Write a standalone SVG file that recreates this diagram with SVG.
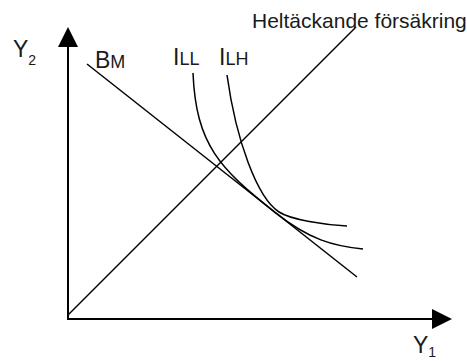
<svg xmlns="http://www.w3.org/2000/svg" width="467" height="361" viewBox="0 0 467 361">
  <style>
    .ax { stroke: #000; stroke-width: 2; fill: none; }
    .ln { stroke: #000; stroke-width: 1.5; fill: none; stroke-linecap: butt; }
    .head { fill: #000; stroke: none; }
    text { font-family: "Liberation Sans", Arial, Helvetica, sans-serif; fill: #1a1a1a; }
    .big { font-size: 23px; }
    .sub { font-size: 18px; }
    .num { font-size: 14px; }
  </style>
  <rect width="467" height="361" fill="#fff"/>
  <g id="axes">
    <line class="ax" x1="68" y1="319" x2="68" y2="45"/>
    <polygon class="head" points="68,27 58,47 78,47"/>
    <line class="ax" x1="67" y1="319" x2="434" y2="319"/>
    <polygon class="head" points="452,319 432,309 432,329"/>
  </g>
  <g id="connectors">
    <line id="full-insurance" class="ln" x1="68" y1="315" x2="356" y2="27"/>
    <line id="BM-line" class="ln" x1="87" y1="64" x2="357" y2="277"/>
    <path id="ILL-curve" class="ln" d="M193,73 C196,145 220,168.9 275,212.3 C310,239.9 333,246 363,249"/>
    <path id="ILH-curve" class="ln" d="M227,75 C236,140 257,197.7 279,212 C291,219.8 325,225 347,226"/>
  </g>
  <g id="labels">
    <text id="label-full" x="252" y="28" style="font-size:21px">Heltäckande försäkring</text>
    <text id="label-Y2" x="13" y="57"><tspan class="big">Y</tspan><tspan class="num" dy="8">2</tspan></text>
    <text id="label-Y1" x="413" y="353"><tspan class="big">Y</tspan><tspan class="num" dy="4">1</tspan></text>
    <text id="label-BM" x="95" y="68"><tspan class="big">B</tspan><tspan class="sub">M</tspan></text>
    <text id="label-ILL" x="173" y="65"><tspan class="big">I</tspan><tspan class="sub">LL</tspan></text>
    <text id="label-ILH" x="219" y="65"><tspan class="big">I</tspan><tspan class="sub">LH</tspan></text>
  </g>
</svg>
